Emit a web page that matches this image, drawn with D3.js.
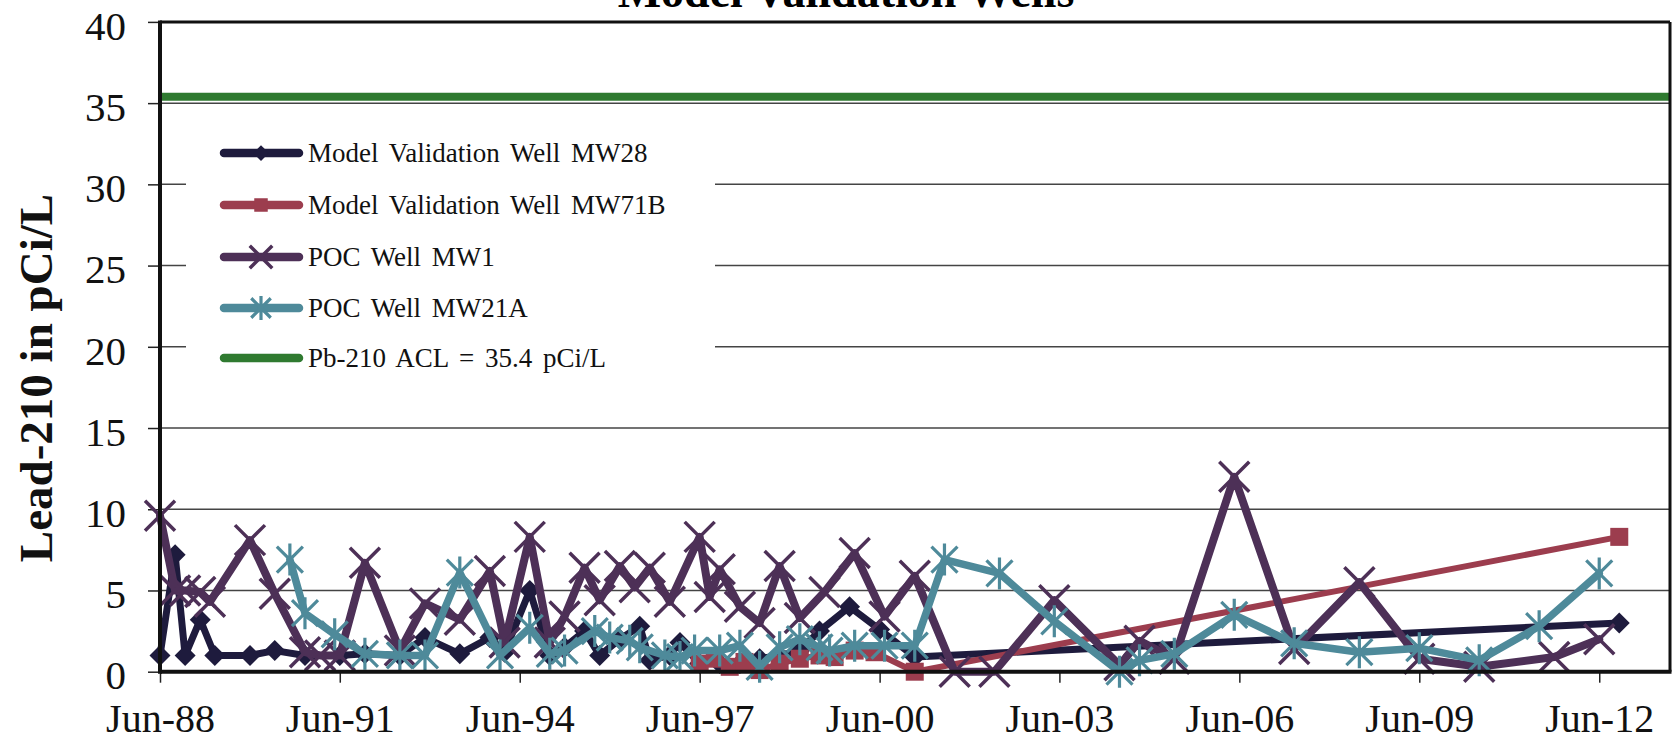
<!DOCTYPE html>
<html><head><meta charset="utf-8">
<script src="https://cdn.jsdelivr.net/npm/d3@7/dist/d3.min.js"></script>
<style>body{margin:0;background:#fff}svg{display:block}</style>
</head><body>
<svg id="c" width="1675" height="741"></svg>
<script>
const title = "Model Validation Wells";
const yTitle = "Lead-210 in pCi/L";
const yTicks = [0,5,10,15,20,25,30,35,40];
const xTickDates = ["1988-06","1991-06","1994-06","1997-06","2000-06","2003-06","2006-06","2009-06","2012-06"];
const seriesNames = ["Model Validation Well MW28","Model Validation Well MW71B","POC Well MW1","POC Well MW21A","Pb-210 ACL = 35.4 pCi/L"];
const aclValue = 35.4;

const mw28 = [["1988-06",1.0],["1988-09",7.2],["1988-11",1.0],["1989-02",3.2],["1989-05",1.0],["1989-12",1.0],["1990-05",1.3],["1990-11",1.0],["1991-06",1.0],["1991-11",1.1],["1992-06",1.0],["1992-11",2.1],["1993-06",1.1],["1993-12",2.1],["1994-03",1.2],["1994-08",5.0],["1994-12",1.0],["1995-03",1.5],["1995-07",2.5],["1995-10",1.0],["1996-02",2.0],["1996-06",2.8],["1996-08",0.7],["1996-12",1.0],["1997-02",1.8],["1997-06",0.5],["1997-10",0.5],["1998-02",0.5],["1998-06",0.8],["1998-10",1.0],["1999-02",1.3],["1999-06",2.5],["1999-12",4.0],["2000-06",2.6],["2001-01",0.9],["2012-10",3.0]];
const mw71b = [["1997-06",0.5],["1997-09",0.8],["1997-12",0.3],["1998-03",0.6],["1998-06",0.1],["1998-10",0.5],["1999-02",0.8],["1999-06",1.0],["1999-09",0.9],["2000-01",1.3],["2000-05",1.2],["2001-01",0.0],["2012-10",8.3]];
const mw1 = [["1988-06",9.6],["1988-09",5.0],["1988-11",5.0],["1989-02",4.9],["1989-04",4.3],["1989-12",8.1],["1990-05",4.8],["1990-11",1.2],["1991-02",1.0],["1991-06",1.0],["1991-11",6.7],["1992-06",1.3],["1992-11",4.2],["1993-06",3.2],["1993-12",6.2],["1994-03",1.8],["1994-08",8.3],["1994-12",1.8],["1995-03",3.4],["1995-07",6.4],["1995-10",4.4],["1996-02",6.5],["1996-05",5.2],["1996-08",6.4],["1996-12",4.3],["1997-06",8.3],["1997-08",4.6],["1997-10",6.3],["1998-02",4.0],["1998-06",3.0],["1998-10",6.5],["1999-02",3.3],["1999-07",4.9],["2000-01",7.3],["2000-07",3.4],["2001-01",5.9],["2001-09",0.0],["2002-05",0.0],["2003-05",4.4],["2004-06",0.4],["2004-10",1.9],["2005-05",0.8],["2006-05",12.0],["2007-05",1.4],["2008-06",5.5],["2009-06",0.8],["2010-06",0.3],["2011-09",0.9],["2012-06",2.0]];
const mw21a = [["1990-08",6.9],["1990-11",3.6],["1991-05",2.3],["1991-11",1.1],["1992-06",1.0],["1992-11",1.0],["1993-06",6.1],["1994-02",1.0],["1994-08",2.7],["1994-12",1.1],["1995-03",1.3],["1995-09",2.5],["1995-12",2.1],["1996-04",1.9],["1996-06",1.5],["1996-11",1.0],["1997-02",0.9],["1997-05",1.3],["1997-10",1.3],["1998-02",1.6],["1998-06",0.3],["1998-10",1.5],["1999-02",2.0],["1999-06",1.5],["1999-08",1.3],["2000-01",1.6],["2000-07",1.6],["2001-01",1.6],["2001-07",6.9],["2002-06",6.05],["2003-05",3.1],["2004-06",0.0],["2004-10",0.7],["2005-05",1.1],["2006-05",3.5],["2007-05",1.75],["2008-06",1.2],["2009-06",1.45],["2010-06",0.7],["2011-06",2.8],["2012-06",6.05]];

const parse = d3.timeParse("%Y-%m");
const svg = d3.select("#c");
const L = 160, R = 1670, T = 21.9, B = 671.7;
const x = d3.scaleTime().domain([new Date(1988,5,1), new Date(2013,7,6)]).range([L,R]);
const y = d3.scaleLinear().domain([0,40]).range([B,T]);
const serif = "'Liberation Serif','Times New Roman',serif";

svg.append("rect").attr("width",1675).attr("height",741).attr("fill","#fff");

// title (mostly cut off at top, as in the reference)
svg.append("text").attr("x",846).attr("y",7).attr("text-anchor","middle")
  .attr("font-family",serif).attr("font-weight","bold").attr("font-size",46).text(title);

// gridlines
svg.append("g").selectAll("line").data(yTicks.filter(v=>v>0 && v<40)).join("line")
  .attr("x1",L).attr("x2",R).attr("y1",d=>y(d)).attr("y2",d=>y(d))
  .attr("stroke","#444").attr("stroke-width",1.5);

// legend background (covers gridlines)
const legX = 186, legY = 124, legW = 529, legH = 260;
svg.append("rect").attr("x",legX).attr("y",legY).attr("width",legW).attr("height",legH).attr("fill","#fff");

// ACL line
svg.append("line").attr("x1",L).attr("x2",R).attr("y1",y(aclValue)).attr("y2",y(aclValue))
  .attr("stroke","#2f7a30").attr("stroke-width",8);

// axes
const yAxis = d3.axisLeft(y).tickValues(yTicks).tickSize(12).tickPadding(22);
const gy = svg.append("g").attr("transform",`translate(${L},0)`).call(yAxis);
gy.select(".domain").remove();
gy.selectAll(".tick line").attr("stroke","#222").attr("stroke-width",1.5);
gy.selectAll("text").attr("font-family",serif).attr("font-size",41).attr("fill","#111").attr("dy","0.42em");

const xAxis = d3.axisBottom(x).tickValues(xTickDates.map(parse)).tickFormat(d3.timeFormat("%b-%y")).tickSize(11).tickPadding(21);
const gx = svg.append("g").attr("transform",`translate(0,${B})`).call(xAxis);
gx.select(".domain").remove();
gx.selectAll(".tick line").attr("stroke","#222").attr("stroke-width",1.5);
gx.selectAll("text").attr("font-family",serif).attr("font-size",40).attr("fill","#111");

// y title
svg.append("text").attr("transform","translate(52,378) rotate(-90)").attr("text-anchor","middle")
  .attr("font-family",serif).attr("font-weight","bold").attr("font-size",47).attr("fill","#111").text(yTitle);

// markers
function drawMarker(g, type, color, s){
  if(type==="diamond"){ const r=10.5*s; g.append("path").attr("d",`M0,${-r}L${r},0L0,${r}L${-r},0Z`).attr("fill",color); }
  else if(type==="square"){ const h=9*s; g.append("rect").attr("x",-h).attr("y",-h).attr("width",2*h).attr("height",2*h).attr("fill",color); }
  else if(type==="x"){ const h=15*s; g.append("path").attr("d",`M${-h},${-h}L${h},${h}M${-h},${h}L${h},${-h}`).attr("stroke",color).attr("stroke-width",3.5).attr("fill","none"); }
  else if(type==="star"){ const h=13*s, v=16*s; g.append("path").attr("d",`M${-h},${-h}L${h},${h}M${-h},${h}L${h},${-h}M0,${-v}L0,${v}`).attr("stroke",color).attr("stroke-width",3.2).attr("fill","none"); }
}

const series = [
  {data:mw28, color:"#1e1b3d", w:7, marker:"diamond"},
  {data:mw71b, color:"#9c3d4e", w:6, marker:"square"},
  {data:mw1, color:"#4d3057", w:8, marker:"x"},
  {data:mw21a, color:"#4e8a9a", w:7.5, marker:"star"}
];
const line = d3.line().x(d=>x(parse(d[0]))).y(d=>y(d[1]));
series.forEach(s=>{
  const g = svg.append("g");
  g.append("path").attr("d",line(s.data)).attr("fill","none").attr("stroke",s.color)
    .attr("stroke-width",s.w).attr("stroke-linejoin","round").attr("stroke-linecap","round");
  s.data.forEach(d=>{
    const m = g.append("g").attr("transform",`translate(${x(parse(d[0]))},${y(d[1])})`);
    drawMarker(m, s.marker, s.color, 1);
  });
});

// frame
svg.append("line").attr("x1",L).attr("x2",R).attr("y1",T).attr("y2",T).attr("stroke","#111").attr("stroke-width",3);
svg.append("line").attr("x1",R).attr("x2",R).attr("y1",T).attr("y2",B).attr("stroke","#111").attr("stroke-width",3);
svg.append("line").attr("x1",L).attr("x2",R+1.5).attr("y1",B).attr("y2",B).attr("stroke","#111").attr("stroke-width",4);
svg.append("line").attr("x1",L).attr("x2",L).attr("y1",T-1.5).attr("y2",B+2).attr("stroke","#111").attr("stroke-width",4);

// legend
const legRows = [153,205,257,308,358];
const legendItems = [
  {color:"#1e1b3d", marker:"diamond"},
  {color:"#9c3d4e", marker:"square"},
  {color:"#4d3057", marker:"x"},
  {color:"#4e8a9a", marker:"star"},
  {color:"#2f7a30", marker:null}
];
legendItems.forEach((it,i)=>{
  const g = svg.append("g").attr("transform",`translate(0,${legRows[i]})`);
  g.append("line").attr("x1",224).attr("x2",299).attr("y1",0).attr("y2",0).attr("stroke",it.color).attr("stroke-width",8.5).attr("stroke-linecap","round");
  if(it.marker){ const m=g.append("g").attr("transform","translate(261,0)"); drawMarker(m,it.marker,it.color,0.75); }
  g.append("text").attr("x",308).attr("y",0).attr("dy","0.35em").attr("font-family",serif).attr("font-size",27)
    .attr("word-spacing","4px").attr("fill","#111").text(seriesNames[i]);
});
</script>
</body></html>
